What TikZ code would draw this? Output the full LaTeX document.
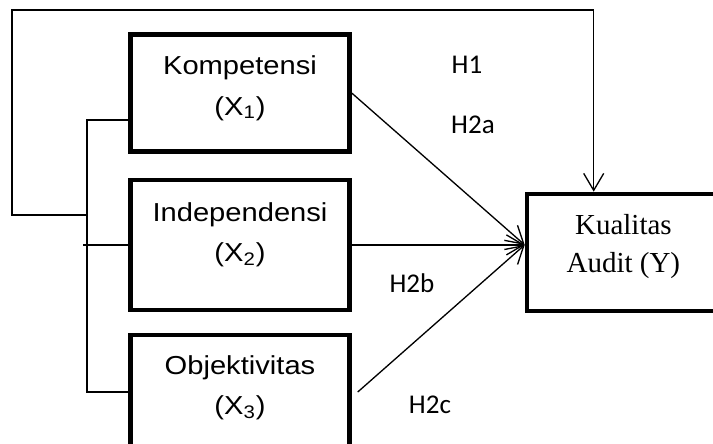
\documentclass[tikz,border=0pt]{standalone}
\usepackage{fontspec}
\usepackage{tikz}
\usetikzlibrary{arrows.meta,positioning}
\newfontfamily\boxfont[FakeStretch=1.12]{Liberation Sans}
\newfontfamily\kualfont{Liberation Serif}
\newfontfamily\hypfont{Carlito}
\tikzset{
  var/.style={draw, line width=2.5pt, align=center, inner ysep=0pt,
    minimum width=4.38cm,
    font=\boxfont\fontsize{14.8}{22.8}\selectfont},
  dep/.style={draw, line width=2.5pt, align=center, inner ysep=0pt,
    minimum width=3.86cm, text height=1.58cm, text depth=0.76cm,
    font=\kualfont\fontsize{16.5}{21.6}\selectfont},
  hyp/.style={anchor=base, font=\hypfont\fontsize{15.4}{18}\selectfont},
  conn/.style={line width=0.75pt},
  arrow/.style={-{Straight Barb[length=3.4mm,width=4mm]}, line width=0.75pt},
}

\begin{document}
\begin{tikzpicture}
\useasboundingbox (0,0) rectangle (14.26,-8.86);
\node[var, text height=1.61cm, text depth=0.73cm] (komp) at (4.80,-1.86) {Kompetensi\\(X\textsubscript{1})};
\node[var, text height=1.64cm, text depth=0.96cm, below=0.48cm of komp] (indep) {Independensi\\(X\textsubscript{2})};
\node[var, text height=1.59cm, text depth=0.68cm, below=0.42cm of indep] (objek) {Objektivitas\\(X\textsubscript{3})};
\node[dep, right=3.46cm of indep, yshift=-0.15cm] (kual) {Kualitas\\Audit (Y)};
% hipotesis
\node[hyp] (h1) at (9.34,-1.46) {H1};
\node[hyp] (h2a) at (9.46,-2.66) {H2a};
\node[hyp] (h2b) at (8.24,-5.84) {H2b};
\node[hyp] (h2c) at (8.60,-8.26) {H2c};
% titik bantu
\coordinate (tuju) at ([yshift=0.15cm]kual.west);
\coordinate (jt) at (1.74,-2.40);
\coordinate (jm) at (1.74,-4.30);
\coordinate (fbt) at (0.24,-0.20);
\coordinate (fbr) at ([xshift=1.38cm]kual.north west);
\coordinate (indepl) at ([xshift=-0.90cm]indep.west);
% garis
\draw[conn] (komp.west |- jt) -- (jt) |- (objek.west);
\draw[conn] (indep.west) -- (indepl);
\draw[arrow] (jm) -| (fbt) -| (fbr);
\draw[arrow] (komp.east) -- (tuju);
\draw[arrow] (indep.east) -- (tuju);
\draw[arrow] ([xshift=0.12cm]objek.east) -- (tuju);
\end{tikzpicture}
\end{document}
